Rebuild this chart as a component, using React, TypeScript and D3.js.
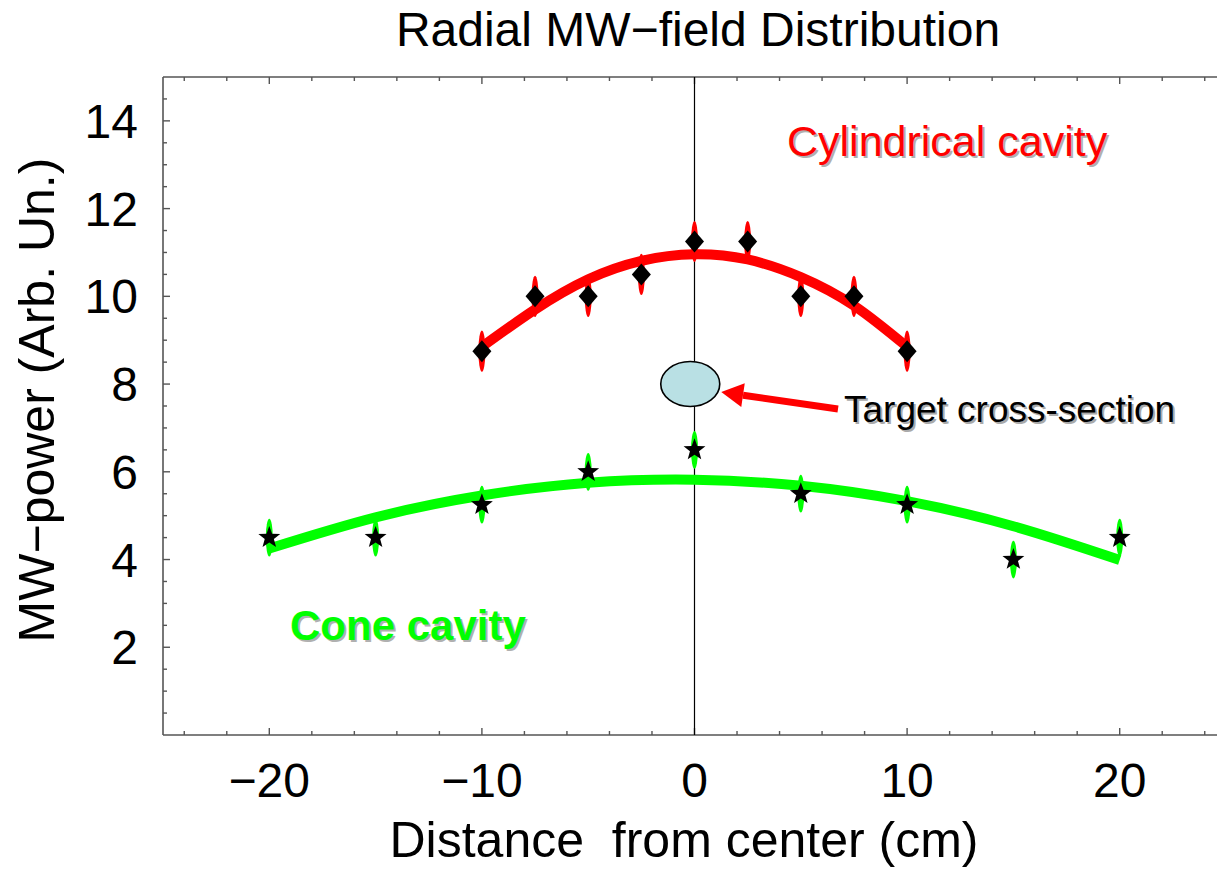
import React from "react";
import * as d3 from "d3";

// ---- data ----
const cylX = [-10, -7.5, -5, -2.5, 0, 2.5, 5, 7.5, 10];
const cylY = [8.75, 10, 10, 10.5, 11.25, 11.25, 10, 10, 8.75];
const cylFitY = [8.85, 9.7, 10.39, 10.81, 10.96, 10.84, 10.44, 9.79, 8.85];
const cylErr = 0.47;

const coneX = [-20, -15, -10, -5, 0, 5, 10, 15, 20];
const coneY = [4.5, 4.5, 5.25, 6.0, 6.5, 5.5, 5.25, 4.0, 4.5];
const coneFitY = [4.25, 4.96, 5.46, 5.75, 5.82, 5.68, 5.33, 4.76, 3.99];
const coneErr = 0.43;

const xMajorTicks = [-20, -10, 0, 10, 20];
const yMajorTicks = [2, 4, 6, 8, 10, 12, 14];
const target = { x: -0.2, y: 8 };

const W = 1217;
const H = 870;
const FONT = "'Liberation Sans', Arial, Helvetica, sans-serif";

function starPath(cx: number, cy: number, R: number, r: number) {
  const pts: string[] = [];
  for (let i = 0; i < 10; i++) {
    const a = -Math.PI / 2 + (i * Math.PI) / 5;
    const rr = i % 2 === 0 ? R : r;
    pts.push(`${cx + rr * Math.cos(a)},${cy + rr * Math.sin(a)}`);
  }
  return "M" + pts.join("L") + "Z";
}

function diamondPath(cx: number, cy: number, w: number, h: number) {
  return `M${cx},${cy - h}L${cx + w},${cy}L${cx},${cy + h}L${cx - w},${cy}Z`;
}

export default function App() {
  const x = d3.scaleLinear().domain([-25, 25]).range([163, 1226]);
  const y = d3.scaleLinear().domain([0, 15]).range([735, 77]);

  const xMinor = d3.range(-24, 25, 2);
  const yMinor = d3.range(0.5, 15, 0.5);

  const line = d3
    .line<[number, number]>()
    .x((d) => x(d[0]))
    .y((d) => y(d[1]))
    .curve(d3.curveNatural);

  const cylFit = cylX.map((v, i) => [v, cylFitY[i]] as [number, number]);
  const coneFit = coneX.map((v, i) => [v, coneFitY[i]] as [number, number]);

  const axisColor = "#555";
  const x0 = 163, y0 = 735, yTop = 77;

  // arrow geometry (annotation)
  const tail = { x: 838, y: 409 };
  const tip = { x: x(target.x) + 31, y: 392 };
  const ang = Math.atan2(tip.y - tail.y, tip.x - tail.x);
  const headLen = 22, headHalf = 12;
  const bx = tip.x - headLen * Math.cos(ang);
  const by = tip.y - headLen * Math.sin(ang);
  const px = -Math.sin(ang), py = Math.cos(ang);

  return (
    <div style={{ position: "absolute", left: 0, top: 0 }}>
      <svg width={W} height={H} style={{ display: "block", background: "#fff" }} fontFamily={FONT}>
        <rect x={0} y={0} width={W} height={H} fill="#fff" />
        {/* title */}
        <text x={698} y={46} textAnchor="middle" fontSize={48} fill="#000">
          Radial MW−field Distribution
        </text>

        {/* frame */}
        <line x1={x0} y1={yTop} x2={W} y2={yTop} stroke={axisColor} strokeWidth={1.6} />
        <line x1={x0} y1={y0} x2={W} y2={y0} stroke={axisColor} strokeWidth={1.6} />
        <line x1={x0} y1={yTop} x2={x0} y2={y0} stroke={axisColor} strokeWidth={1.6} />

        {/* x ticks */}
        {xMinor.map((t) => {
          const major = t % 10 === 0;
          const L = major ? 7 : 4;
          return (
            <g key={"xt" + t}>
              <line x1={x(t)} x2={x(t)} y1={y0} y2={y0 - L} stroke={axisColor} strokeWidth={1.4} />
              <line x1={x(t)} x2={x(t)} y1={yTop} y2={yTop + L} stroke={axisColor} strokeWidth={1.4} />
            </g>
          );
        })}
        {/* y ticks */}
        {yMinor.map((t) => {
          const major = Math.abs(t % 2) < 1e-9;
          const L = major ? 7 : 4;
          return (
            <line key={"yt" + t} x1={x0} x2={x0 + L} y1={y(t)} y2={y(t)} stroke={axisColor} strokeWidth={1.4} />
          );
        })}

        {/* tick labels */}
        {xMajorTicks.map((t) => (
          <text key={"xl" + t} x={x(t)} y={797} textAnchor="middle" fontSize={48} fill="#000">
            {t < 0 ? "−" + Math.abs(t) : String(t)}
          </text>
        ))}
        {yMajorTicks.map((t) => (
          <text key={"yl" + t} x={138} y={y(t) + 17} textAnchor="end" fontSize={48} fill="#000">
            {t}
          </text>
        ))}

        {/* axis labels */}
        <text x={684} y={857} textAnchor="middle" fontSize={50} fill="#000" style={{ whiteSpace: "pre" }}>
          {"Distance  from center (cm)"}
        </text>
        <text transform={`translate(54,400) rotate(-90)`} textAnchor="middle" fontSize={50} fill="#000">
          MW−power (Arb. Un.)
        </text>

        {/* vertical center line */}
        <line x1={x(0)} x2={x(0)} y1={yTop} y2={y0} stroke="#000" strokeWidth={1.2} />

        {/* fit curves */}
        <path d={line(cylFit) || ""} fill="none" stroke="#ff0000" strokeWidth={10} />
        <path d={line(coneFit) || ""} fill="none" stroke="#00ff00" strokeWidth={10} />

        {/* error bars */}
        {cylX.map((v, i) => (
          <ellipse key={"ce" + i} cx={x(v)} cy={y(cylY[i])} rx={3.5}
            ry={y(cylY[i] - cylErr) - y(cylY[i])} fill="#ff0000" />
        ))}
        {coneX.map((v, i) => (
          <ellipse key={"ge" + i} cx={x(v)} cy={y(coneY[i])} rx={3.5}
            ry={y(coneY[i] - coneErr) - y(coneY[i])} fill="#00ff00" />
        ))}

        {/* markers */}
        {cylX.map((v, i) => (
          <path key={"cd" + i} d={diamondPath(x(v), y(cylY[i]), 9.5, 11)} fill="#000" />
        ))}
        {coneX.map((v, i) => (
          <path key={"gs" + i} d={starPath(x(v), y(coneY[i]), 11.5, 4.8)} fill="#000" />
        ))}

        {/* target ellipse */}
        <ellipse cx={x(target.x)} cy={y(target.y)} rx={29.5} ry={22.5} fill="#b9e0e4" stroke="#000" strokeWidth={1.6} />

        {/* arrow */}
        <line x1={tail.x} y1={tail.y} x2={bx} y2={by} stroke="#ff0000" strokeWidth={7} />
        <path
          d={`M${tip.x},${tip.y}L${bx + px * headHalf},${by + py * headHalf}L${bx - px * headHalf},${by - py * headHalf}Z`}
          fill="#ff0000"
        />

        {/* annotations with shadow */}
        <text x={846} y={424} fontSize={37} fill="#aaa">Target cross-section</text>
        <text x={844} y={422} fontSize={37} fill="#000">Target cross-section</text>

        <text x={789} y={158} fontSize={43} fill="#b0b0b0">Cylindrical cavity</text>
        <text x={787} y={156} fontSize={43} fill="#ff0000">Cylindrical cavity</text>

        <text x={292} y={642} fontSize={42} fontWeight="bold" fill="#b0b0b0">Cone cavity</text>
        <text x={290} y={640} fontSize={42} fontWeight="bold" fill="#00ff00">Cone cavity</text>
      </svg>
    </div>
  );
}
